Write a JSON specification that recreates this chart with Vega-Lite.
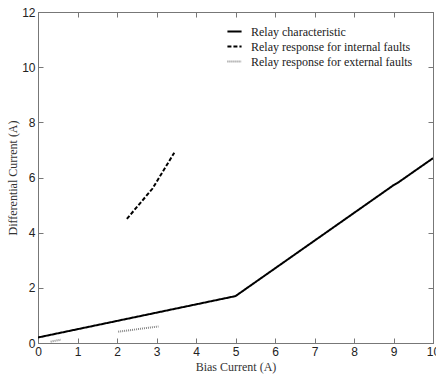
{
  "$schema": "https://vega.github.io/schema/vega-lite/v6.json",
  "width": 395,
  "height": 331,
  "padding": {"left": 38, "top": 12, "right": 3, "bottom": 32},
  "autosize": {"type": "none"},
  "background": "white",
  "config": {
    "view": {"stroke": "#777", "strokeWidth": 1},
    "axis": {
      "grid": false,
      "domainColor": "#777",
      "tickColor": "#777",
      "labelFont": "Liberation Sans",
      "labelFontSize": 12,
      "labelColor": "#222",
      "titleFont": "Liberation Serif",
      "titleFontSize": 12,
      "titleFontWeight": "normal",
      "titleColor": "#333"
    }
  },
  "data": {
    "values": [
      {"series": "Relay characteristic", "seg": "a", "x": 0, "y": 0.2},
      {"series": "Relay characteristic", "seg": "a", "x": 2.5, "y": 0.95},
      {"series": "Relay characteristic", "seg": "a", "x": 5, "y": 1.7},
      {"series": "Relay characteristic", "seg": "a", "x": 9, "y": 5.72},
      {"series": "Relay characteristic", "seg": "a", "x": 9.1, "y": 5.8},
      {"series": "Relay characteristic", "seg": "a", "x": 10, "y": 6.7},
      {"series": "Relay response for internal faults", "seg": "b", "x": 2.25, "y": 4.5},
      {"series": "Relay response for internal faults", "seg": "b", "x": 2.9, "y": 5.6},
      {"series": "Relay response for internal faults", "seg": "b", "x": 3.45, "y": 6.9},
      {"series": "Relay response for external faults", "seg": "c", "x": 0.32, "y": 0.05},
      {"series": "Relay response for external faults", "seg": "c", "x": 0.58, "y": 0.12},
      {"series": "Relay response for external faults", "seg": "d", "x": 2.03, "y": 0.41},
      {"series": "Relay response for external faults", "seg": "d", "x": 3.05, "y": 0.6}
    ]
  },
  "layer": [
    {
      "mark": {"type": "line", "clip": true},
      "encoding": {
        "x": {"field": "x", "type": "quantitative", "scale": {"domain": [0, 10], "nice": false},
              "axis": {"title": "Bias Current (A)", "tickCount": 10, "tickSize": -5, "labelPadding": 8, "titlePadding": 4, "labelFlush": false}},
        "y": {"field": "y", "type": "quantitative", "scale": {"domain": [0, 12], "nice": false},
              "axis": {"title": "Differential Current (A)", "tickCount": 6, "tickSize": -5, "labelPadding": 8, "titlePadding": 2}},
        "detail": {"field": "seg"},
        "color": {"field": "series", "type": "nominal",
          "scale": {"domain": ["Relay characteristic", "Relay response for internal faults", "Relay response for external faults"], "range": ["#000000", "#000000", "#888888"]},
          "legend": {"title": null, "orient": "none", "legendX": 188, "legendY": 11, "symbolType": "stroke", "symbolSize": 200, "labelFont": "Liberation Serif", "labelFontSize": 12, "labelColor": "#222", "rowPadding": 0, "labelLimit": 0, "labelOffset": 8}},
        "strokeDash": {"field": "series", "type": "nominal",
          "scale": {"domain": ["Relay characteristic", "Relay response for internal faults", "Relay response for external faults"], "range": [[1, 0], [4, 2], [1, 1]]}},
        "strokeWidth": {"field": "series", "type": "nominal",
          "scale": {"domain": ["Relay characteristic", "Relay response for internal faults", "Relay response for external faults"], "range": [2, 2, 1.2]}}
      }
    },
    {
      "mark": {"type": "point", "opacity": 0},
      "encoding": {
        "x": {"field": "x", "type": "quantitative", "axis": {"orient": "top", "labels": false, "title": null, "tickCount": 10, "tickSize": -5}},
        "y": {"field": "y", "type": "quantitative", "axis": {"orient": "right", "labels": false, "title": null, "tickCount": 6, "tickSize": -5}}
      }
    }
  ],
  "resolve": {"axis": {"x": "independent", "y": "independent"}}
}
